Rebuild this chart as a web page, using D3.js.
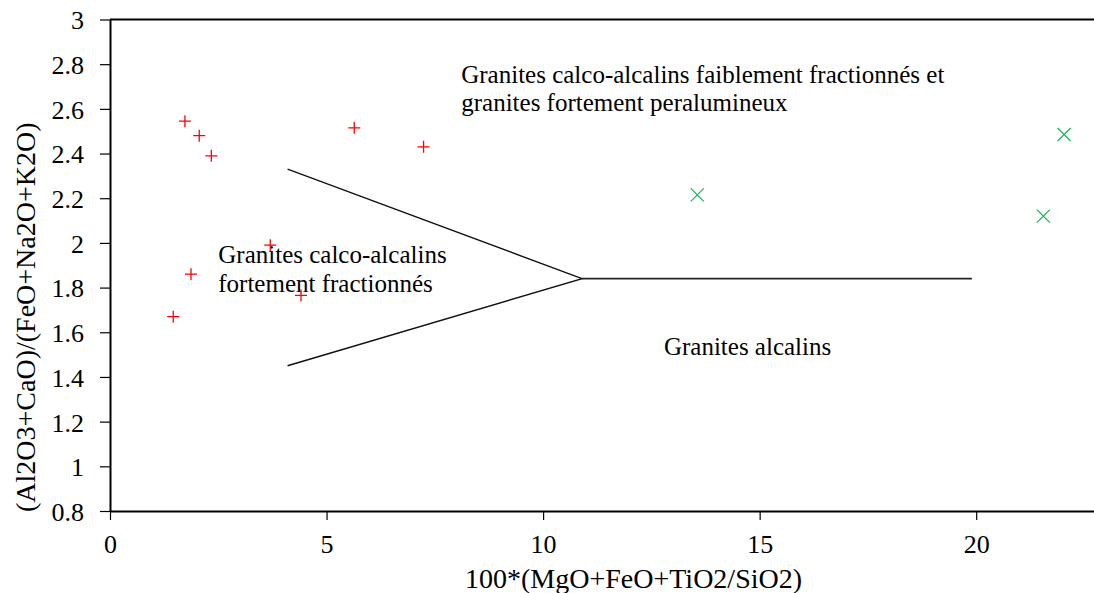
<!DOCTYPE html>
<html>
<head>
<meta charset="utf-8">
<script src="https://cdn.jsdelivr.net/npm/d3@7"></script>
<style>
  html, body { margin: 0; padding: 0; background: #fff; }
  svg { display: block; }
  svg text { font-family: "Liberation Serif", "Times New Roman", Times, serif !important; }
</style>
</head>
<body>
<svg id="chart" width="1094" height="593"></svg>
<script>
// Tick values and labels
const xTicks = [0, 5, 10, 15, 20];
const yTicks = [0.8, 1, 1.2, 1.4, 1.6, 1.8, 2, 2.2, 2.4, 2.6, 2.8, 3];
const yTickLabels = ["0.8", "1", "1.2", "1.4", "1.6", "1.8", "2", "2.2", "2.4", "2.6", "2.8", "3"];

// Samples (red +)
const redX = [1.73, 2.06, 2.34, 5.64, 7.24, 3.70, 1.87, 4.41, 1.46];
const redY = [2.545, 2.48, 2.39, 2.515, 2.43, 1.99, 1.86, 1.765, 1.67];

// Samples (green x)
const greenX = [13.56, 21.55, 22.03];
const greenY = [2.215, 2.12, 2.485];

// Field boundaries
const wedgeX = [4.1, 10.9, 4.1];
const wedgeY = [2.33, 1.84, 1.45];
const splitX = [10.9, 19.9];
const splitY = [1.84, 1.84];

// Field names
const fieldLabels = [
  { text: "Granites calco-alcalins faiblement fractionnés et", x: 8.11, y: 2.716 },
  { text: "granites fortement peralumineux", x: 8.11, y: 2.59 },
  { text: "Granites calco-alcalins", x: 2.50, y: 1.909 },
  { text: "fortement fractionnés", x: 2.50, y: 1.782 },
  { text: "Granites alcalins", x: 12.79, y: 1.50 }
];

const svg = d3.select("#chart");
const plotLeft = 110, plotRight = 1094, plotTop = 19.5, plotBottom = 511;

const x = d3.scaleLinear().domain([0, 22.72]).range([plotLeft, plotRight]);
const y = d3.scaleLinear().domain([0.8, 3]).range([plotBottom, plotTop]);

// Top frame line
svg.append("line")
  .attr("x1", plotLeft).attr("x2", plotRight)
  .attr("y1", plotTop).attr("y2", plotTop)
  .attr("stroke", "#000").attr("stroke-width", 1.8);

// Axes
const xAxis = d3.axisBottom(x).tickValues(xTicks).tickSize(9).tickSizeOuter(0).tickFormat(d3.format("d"));
const gx = svg.append("g").attr("transform", `translate(0,${plotBottom})`).call(xAxis);
gx.attr("font-family", null);
gx.select(".domain").attr("stroke", "#000").attr("stroke-width", 2);
gx.selectAll(".tick line").attr("stroke", "#000").attr("stroke-width", 1.2);
gx.selectAll(".tick text")
  .attr("font-size", 26).attr("fill", "#000")
  .attr("y", 42).attr("dy", null);

const yAxis = d3.axisLeft(y).tickValues(yTicks).tickSize(10).tickSizeOuter(0)
  .tickFormat((d, i) => yTickLabels[i]);
const gy = svg.append("g").attr("transform", `translate(${plotLeft},0)`).call(yAxis);
gy.attr("font-family", null);
gy.select(".domain").attr("stroke", "#000").attr("stroke-width", 2);
gy.selectAll(".tick line").attr("stroke", "#000").attr("stroke-width", 1.2);
gy.selectAll(".tick text")
  .attr("font-size", 26).attr("fill", "#000")
  .attr("x", -26).attr("dy", "0.36em");

// Field boundary lines
const line = d3.line().x(d => x(d[0])).y(d => y(d[1]));
svg.append("path")
  .datum(wedgeX.map((v, i) => [v, wedgeY[i]]))
  .attr("d", line).attr("fill", "none")
  .attr("stroke", "#111").attr("stroke-width", 1.4);
svg.append("path")
  .datum(splitX.map((v, i) => [v, splitY[i]]))
  .attr("d", line).attr("fill", "none")
  .attr("stroke", "#222").attr("stroke-width", 1.6);

// Field labels
svg.append("g").selectAll("text").data(fieldLabels).join("text")
  .attr("x", d => x(d.x)).attr("y", d => y(d.y))
  .attr("font-size", 25).attr("fill", "#000")
  .text(d => d.text);

// Red plus markers
const ps = 6;
const gr = svg.append("g").attr("stroke", "#ff0000").attr("stroke-width", 1.3);
redX.forEach((v, i) => {
  const cx = x(v), cy = y(redY[i]);
  gr.append("path").attr("d", `M${cx - ps},${cy}H${cx + ps}M${cx},${cy - ps}V${cy + ps}`);
});

// Green cross markers
const cs = 6.5;
const gg = svg.append("g").attr("stroke", "#1fb85a").attr("stroke-width", 1.3);
greenX.forEach((v, i) => {
  const cx = x(v), cy = y(greenY[i]);
  gg.append("path").attr("d", `M${cx - cs},${cy - cs}L${cx + cs},${cy + cs}M${cx - cs},${cy + cs}L${cx + cs},${cy - cs}`);
});

// Axis titles
svg.append("text")
  .attr("x", 465).attr("y", 588)
  .attr("font-size", 28).attr("fill", "#000")
  .text("100*(MgO+FeO+TiO2/SiO2)");

svg.append("text")
  .attr("transform", "translate(34.5,512) rotate(-90)")
  .attr("font-size", 28).attr("fill", "#000")
  .text("(Al2O3+CaO)/(FeO+Na2O+K2O)");
</script>
</body>
</html>
